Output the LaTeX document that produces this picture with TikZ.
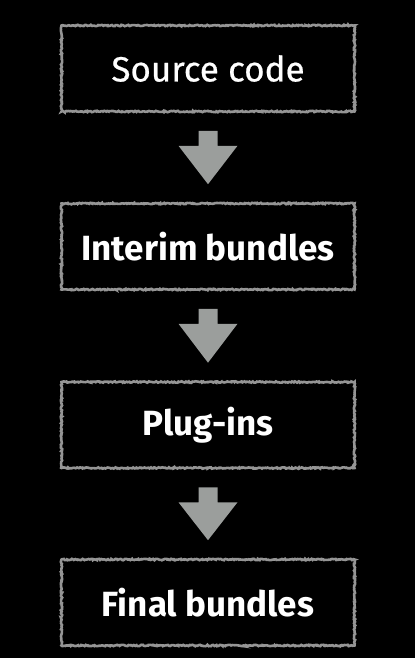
\documentclass[tikz,border=0pt]{standalone}
\usepackage{fontspec}
\setmainfont{Fira Sans}
\newfontfamily\plainfont{Fira Sans}[FakeBold=0.6]
\usepackage{xcolor}
\usepackage{tikz}
\usetikzlibrary{positioning, calc, decorations.pathmorphing}

\definecolor{chalk}{HTML}{959595}
\definecolor{arrowgray}{HTML}{9B9E9C}

\begin{document}
\begin{tikzpicture}[
    x=1pt, y=-1pt,
    stage/.style={rectangle, draw=chalk, line width=2.6pt, minimum width=293pt, minimum height=86pt, align=center, text=white, font=\fontsize{35}{40}\selectfont,
        decorate, decoration={random steps, segment length=1.2pt, amplitude=0.7pt}},
    plain/.style={font=\fontsize{35}{40}\plainfont},
    bold/.style={font=\fontsize{35}{40}\selectfont\bfseries},
    blockarrow/.style={fill=arrowgray}
]

    % Background
    \fill[black] (0,0) rectangle (415,658);
    \useasboundingbox (0,0) rectangle (415,658);

    % Stages
    \node[stage, plain] (src) at (208, 68.5) {Source code};
    \node[stage, bold] (interim) at (208, 246.5) {Interim bundles};
    \node[stage, bold] (plugins) at (208, 425) {Plug-ins};
    \node[stage, bold] (final) at (208, 602.5) {Final bundles};

    % Arrows
    \foreach \a/\b in {src/interim, interim/plugins, plugins/final}
        \fill[blockarrow] ($(\a.south)+(-9.5,18)$) -- ($(\a.south)+(9.5,18)$) -- ($(\a.south)+(9.5,33)$) -- ($(\a.south)+(29.5,33)$)
            -- ($(\b.north)+(0,-18)$) -- ($(\a.south)+(-29.5,33)$) -- ($(\a.south)+(-9.5,33)$) -- cycle;

\end{tikzpicture}
\end{document}
